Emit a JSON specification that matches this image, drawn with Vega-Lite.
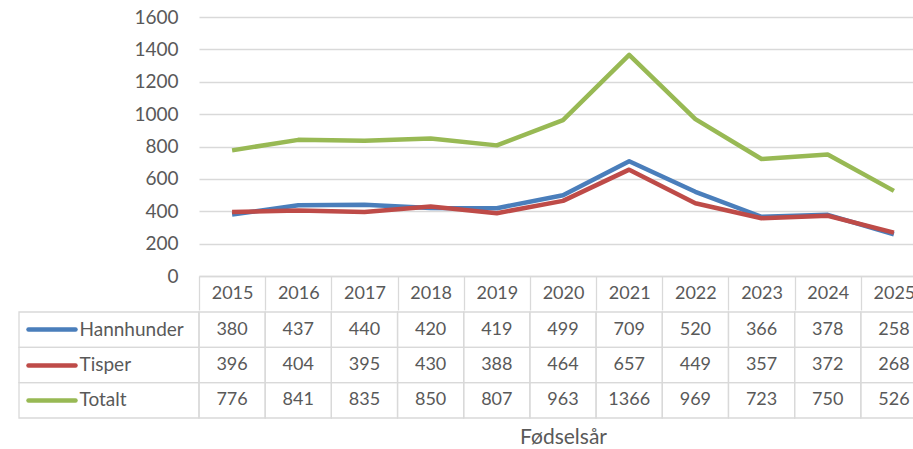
{
  "$schema": "https://vega.github.io/schema/vega-lite/v6.json",
  "padding": {"left": 18, "top": 8, "right": 0, "bottom": 0},
  "bounds": "full",
  "spacing": 0,
  "config": {
    "view": {"stroke": null},
    "font": "Lato",
    "axis": {"labelFont": "Lato", "titleFont": "Lato"}
  },
  "datasets": {
    "counts": [
      {"year": "2015", "series": "Hannhunder", "value": 380},
      {"year": "2016", "series": "Hannhunder", "value": 437},
      {"year": "2017", "series": "Hannhunder", "value": 440},
      {"year": "2018", "series": "Hannhunder", "value": 420},
      {"year": "2019", "series": "Hannhunder", "value": 419},
      {"year": "2020", "series": "Hannhunder", "value": 499},
      {"year": "2021", "series": "Hannhunder", "value": 709},
      {"year": "2022", "series": "Hannhunder", "value": 520},
      {"year": "2023", "series": "Hannhunder", "value": 366},
      {"year": "2024", "series": "Hannhunder", "value": 378},
      {"year": "2025", "series": "Hannhunder", "value": 258},
      {"year": "2015", "series": "Tisper", "value": 396},
      {"year": "2016", "series": "Tisper", "value": 404},
      {"year": "2017", "series": "Tisper", "value": 395},
      {"year": "2018", "series": "Tisper", "value": 430},
      {"year": "2019", "series": "Tisper", "value": 388},
      {"year": "2020", "series": "Tisper", "value": 464},
      {"year": "2021", "series": "Tisper", "value": 657},
      {"year": "2022", "series": "Tisper", "value": 449},
      {"year": "2023", "series": "Tisper", "value": 357},
      {"year": "2024", "series": "Tisper", "value": 372},
      {"year": "2025", "series": "Tisper", "value": 268},
      {"year": "2015", "series": "Totalt", "value": 776},
      {"year": "2016", "series": "Totalt", "value": 841},
      {"year": "2017", "series": "Totalt", "value": 835},
      {"year": "2018", "series": "Totalt", "value": 850},
      {"year": "2019", "series": "Totalt", "value": 807},
      {"year": "2020", "series": "Totalt", "value": 963},
      {"year": "2021", "series": "Totalt", "value": 1366},
      {"year": "2022", "series": "Totalt", "value": 969},
      {"year": "2023", "series": "Totalt", "value": 723},
      {"year": "2024", "series": "Totalt", "value": 750},
      {"year": "2025", "series": "Totalt", "value": 526}
    ],
    "series": [
      {"series": "Hannhunder"},
      {"series": "Tisper"},
      {"series": "Totalt"}
    ]
  },
  "vconcat": [
    {
      "hconcat": [
        {"width": 180, "height": 259, "data": {"values": []}, "mark": "point"},
        {
          "width": 728,
          "height": 259,
          "data": {"name": "counts"},
          "mark": {"type": "line", "strokeWidth": 4.5, "strokeJoin": "round"},
          "encoding": {
            "x": {
              "field": "year", "type": "ordinal", "bandPosition": 0.5,
              "scale": {"type": "band", "paddingInner": 0, "paddingOuter": 0},
              "axis": {
                "title": null, "tickBand": "extent", "tickSize": 34, "tickColor": "#D9D9D9", "tickWidth": 1.3,
                "domainColor": "#D9D9D9", "domainWidth": 1.3, "labelAngle": 0, "labelBaseline": "middle",
                "labelPadding": -17, "labelFontSize": 18, "labelColor": "#595959", "grid": false
              }
            },
            "y": {
              "field": "value", "type": "quantitative",
              "scale": {"domain": [0, 1600], "nice": false},
              "axis": {
                "title": null, "values": [0, 200, 400, 600, 800, 1000, 1200, 1400, 1600], "format": "d",
                "grid": true, "gridColor": "#D9D9D9", "gridWidth": 1.3, "domain": false, "ticks": false,
                "labelPadding": 21, "labelFontSize": 19, "labelColor": "#595959"
              }
            },
            "color": {
              "field": "series", "type": "nominal",
              "scale": {"domain": ["Hannhunder", "Tisper", "Totalt"], "range": ["#4A7EBB", "#BE4B48", "#98B954"]},
              "legend": null
            }
          }
        }
      ],
      "spacing": 0,
      "bounds": "flush"
    },
    {
      "hconcat": [
        {
          "width": 180,
          "height": 106,
          "data": {"name": "series"},
          "mark": {"type": "rect", "fillOpacity": 0, "stroke": "#D9D9D9", "strokeWidth": 1.3},
          "encoding": {
            "y": {
              "field": "series", "type": "nominal", "sort": ["Hannhunder", "Tisper", "Totalt"],
              "scale": {"paddingInner": 0, "paddingOuter": 0},
              "axis": {
                "title": null, "orient": "left", "offset": -56, "domain": false, "grid": false,
                "tickSize": 47, "tickWidth": 4.5, "tickCap": "round",
                "tickColor": {
                  "condition": [
                    {"test": "datum.value === 'Hannhunder'", "value": "#4A7EBB"},
                    {"test": "datum.value === 'Tisper'", "value": "#BE4B48"}
                  ],
                  "value": "#98B954"
                },
                "labelAlign": "left", "labelPadding": -51, "labelFontSize": 19, "labelColor": "#595959"
              }
            }
          }
        },
        {
          "width": 728,
          "height": 106,
          "data": {"name": "counts"},
          "encoding": {
            "x": {
              "field": "year", "type": "ordinal",
              "scale": {"type": "band", "paddingInner": 0, "paddingOuter": 0},
              "axis": {
                "labels": false, "ticks": false, "domain": false, "grid": false,
                "title": "Fødselsår", "titleFontSize": 21, "titleFontWeight": "normal",
                "titleColor": "#595959", "titlePadding": 8
              }
            },
            "y": {
              "field": "series", "type": "nominal", "sort": ["Hannhunder", "Tisper", "Totalt"],
              "scale": {"paddingInner": 0, "paddingOuter": 0},
              "axis": null
            }
          },
          "layer": [
            {"mark": {"type": "rect", "fillOpacity": 0, "stroke": "#D9D9D9", "strokeWidth": 1.3}},
            {
              "mark": {"type": "text", "fontSize": 18, "color": "#595959"},
              "encoding": {"text": {"field": "value", "type": "quantitative", "format": "d"}}
            }
          ]
        }
      ],
      "spacing": 0,
      "bounds": "flush"
    }
  ]
}
